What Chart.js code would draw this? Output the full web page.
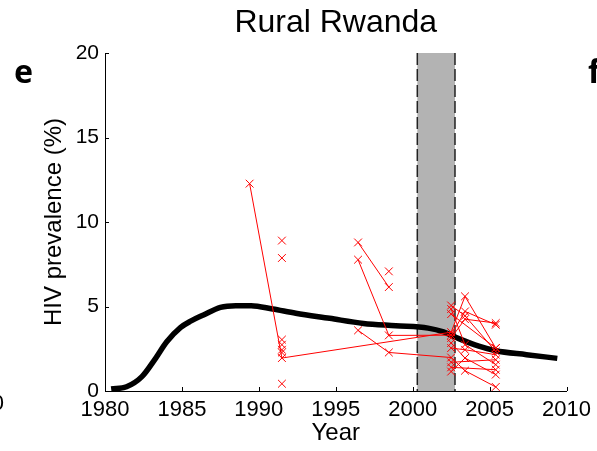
<!DOCTYPE html>
<html>
<head>
<meta charset="utf-8">
<script src="https://cdn.jsdelivr.net/npm/chart.js@4"></script>
<style>
  body { margin: 0; background: #fff; }
  canvas { display: block; }
</style>
</head>
<body>
<canvas id="chart" width="597" height="451"></canvas>
<script>
// model curve (black)
const modelYears = [1980.4, 1981.4, 1982.4, 1983.3, 1984.0, 1984.9, 1985.6, 1986.4, 1987.5, 1988.5, 1989.5, 1990.9, 1992.4, 1994.6, 1996.8, 1998.9, 2001.0, 2002.0, 2003.0, 2004.3, 2005.4, 2007.4, 2009.4];
const modelPrev  = [0.12, 0.25, 0.85, 1.95, 2.9, 3.75, 4.15, 4.5, 4.95, 5.05, 5.05, 4.85, 4.6, 4.3, 4.0, 3.86, 3.72, 3.5, 3.1, 2.65, 2.38, 2.15, 1.93];

// survey sites followed over time (red, joined)
const siteYears = [
  [1989.4, 1991.5, 2002.5, 2003.4, 2005.4],
  [1996.45, 1998.45],
  [1996.45, 1998.45, 2002.5, 2003.4, 2005.4],
  [1996.45, 1998.45, 2002.5, 2003.4, 2005.4],
  [2002.5, 2003.4, 2005.4],
  [2002.5, 2003.4, 2005.4],
  [2002.5, 2003.4, 2005.4],
  [2002.5, 2003.4, 2005.4],
  [2002.5, 2003.4, 2005.4],
  [2002.5, 2005.4],
  [2002.5, 2005.4],
  [2002.5, 2003.4],
  [2002.5, 2005.4]
];
const sitePrev = [
  [12.27, 1.95, 3.48, 5.6, 2.54],
  [8.79, 6.15],
  [7.77, 3.29, 3.3, 4.71, 3.92],
  [3.59, 2.28, 1.98, 1.2, 0.24],
  [5.06, 4.45, 2.34],
  [4.85, 2.74, 1.56],
  [3.14, 4.25, 4.02],
  [2.84, 1.95, 0.97],
  [2.54, 2.44, 2.15],
  [1.7, 1.85],
  [1.4, 1.26],
  [1.15, 1.95],
  [4.55, 2.54]
];

// single-round surveys
const singleYears = [1991.5, 1991.5, 1991.5, 1991.5, 1991.5, 1991.5, 1991.5, 1998.45];
const singlePrev  = [8.9, 7.87, 3.04, 2.74, 2.44, 2.28, 0.43, 7.08];

// shaded period
const shadeStart = 2000.3;
const shadeEnd = 2002.75;

const xMin = 1980, xMax = 2010, xStep = 5;
const yMin = 0, yMax = 20, yStep = 5;

const RED = '#ff0000';
const FONT = "'Liberation Sans', Arial, sans-serif";

const datasets = [];
siteYears.forEach((ys, i) => {
  datasets.push({
    data: ys.map((y, j) => ({ x: y, y: sitePrev[i][j] })),
    showLine: true,
    borderColor: RED,
    borderWidth: 1,
    pointStyle: 'crossRot',
    pointRadius: 5.5,
    pointBorderColor: RED,
    pointBorderWidth: 1,
    order: 1
  });
});
datasets.push({
  data: singleYears.map((y, j) => ({ x: y, y: singlePrev[j] })),
  showLine: false,
  pointStyle: 'crossRot',
  pointRadius: 5.5,
  pointBorderColor: RED,
  pointBorderWidth: 1,
  order: 1
});
datasets.push({
  data: modelYears.map((y, j) => ({ x: y, y: modelPrev[j] })),
  showLine: true,
  borderColor: '#000',
  borderWidth: 5.5,
  pointRadius: 0,
  cubicInterpolationMode: 'monotone',
  order: 2
});

const extras = {
  id: 'extras',
  beforeDatasetsDraw(chart) {
    const { ctx, chartArea, scales } = chart;
    const x0 = scales.x.getPixelForValue(shadeStart);
    const x1 = scales.x.getPixelForValue(shadeEnd);
    ctx.save();
    ctx.fillStyle = '#b3b3b3';
    ctx.fillRect(x0, chartArea.top, x1 - x0, chartArea.bottom - chartArea.top);
    ctx.strokeStyle = '#222';
    ctx.lineWidth = 1.5;
    ctx.setLineDash([12, 4]);
    [x0, x1].forEach(px => {
      ctx.beginPath();
      ctx.moveTo(px, chartArea.top);
      ctx.lineTo(px, chartArea.bottom);
      ctx.stroke();
    });
    ctx.restore();
  },
  afterDraw(chart) {
    const { ctx, chartArea, scales } = chart;
    ctx.save();
    // inward ticks
    ctx.strokeStyle = '#000';
    ctx.lineWidth = 1;
    for (let v = xMin; v <= xMax; v += xStep) {
      const px = Math.round(scales.x.getPixelForValue(v)) + 0.5;
      ctx.beginPath();
      ctx.moveTo(px, chartArea.bottom);
      ctx.lineTo(px, chartArea.bottom - 4);
      ctx.stroke();
    }
    for (let v = yMin; v <= yMax; v += yStep) {
      const py = Math.round(scales.y.getPixelForValue(v)) + 0.5;
      ctx.beginPath();
      ctx.moveTo(chartArea.left, py);
      ctx.lineTo(chartArea.left + 4, py);
      ctx.stroke();
    }
    // panel letters
    ctx.fillStyle = '#000';
    ctx.textBaseline = 'alphabetic';
    ctx.font = "bold 32px 'Noto Sans', 'Liberation Sans', sans-serif";
    ctx.textAlign = 'left';
    ctx.fillText('e', 14, 83);
    ctx.fillText('f', 588, 83);
    // fragment of neighbouring panel
    ctx.font = '22px ' + FONT;
    ctx.textAlign = 'right';
    ctx.textBaseline = 'middle';
    ctx.fillText('0', 4, 404);
    ctx.restore();
  }
};

new Chart(document.getElementById('chart'), {
  type: 'scatter',
  data: { datasets: datasets },
  options: {
    responsive: false,
    animation: false,
    layout: { padding: { top: 0, right: 30, bottom: 0, left: 0 } },
    plugins: {
      legend: { display: false },
      tooltip: { enabled: false },
      title: {
        display: true,
        text: 'Rural Rwanda',
        color: '#000',
        fullSize: false,
        font: { family: FONT, size: 32, weight: 'normal' },
        padding: { top: 4, bottom: 10.6 }
      }
    },
    scales: {
      x: {
        type: 'linear',
        min: xMin,
        max: xMax,
        grid: { display: false, drawTicks: false },
        border: { display: true, color: '#000', width: 1 },
        ticks: {
          stepSize: xStep,
          padding: 6,
          color: '#000',
          font: { family: FONT, size: 22 },
          callback: v => String(v)
        },
        title: {
          display: true,
          text: 'Year',
          color: '#000',
          font: { family: FONT, size: 24 },
          padding: { top: 0, bottom: 3 }
        },
        afterFit: s => { s.height = 60; }
      },
      y: {
        type: 'linear',
        min: yMin,
        max: yMax,
        grid: { display: false, drawTicks: false },
        border: { display: true, color: '#000', width: 1 },
        ticks: {
          stepSize: yStep,
          padding: 6,
          color: '#000',
          font: { family: FONT, size: 21 },
          callback: v => String(v)
        },
        title: {
          display: true,
          text: 'HIV prevalence (%)',
          color: '#000',
          font: { family: FONT, size: 24 },
          padding: { top: 40, bottom: 0 }
        },
        afterFit: s => { s.width = 105; }
      }
    }
  },
  plugins: [extras]
});
</script>
</body>
</html>
